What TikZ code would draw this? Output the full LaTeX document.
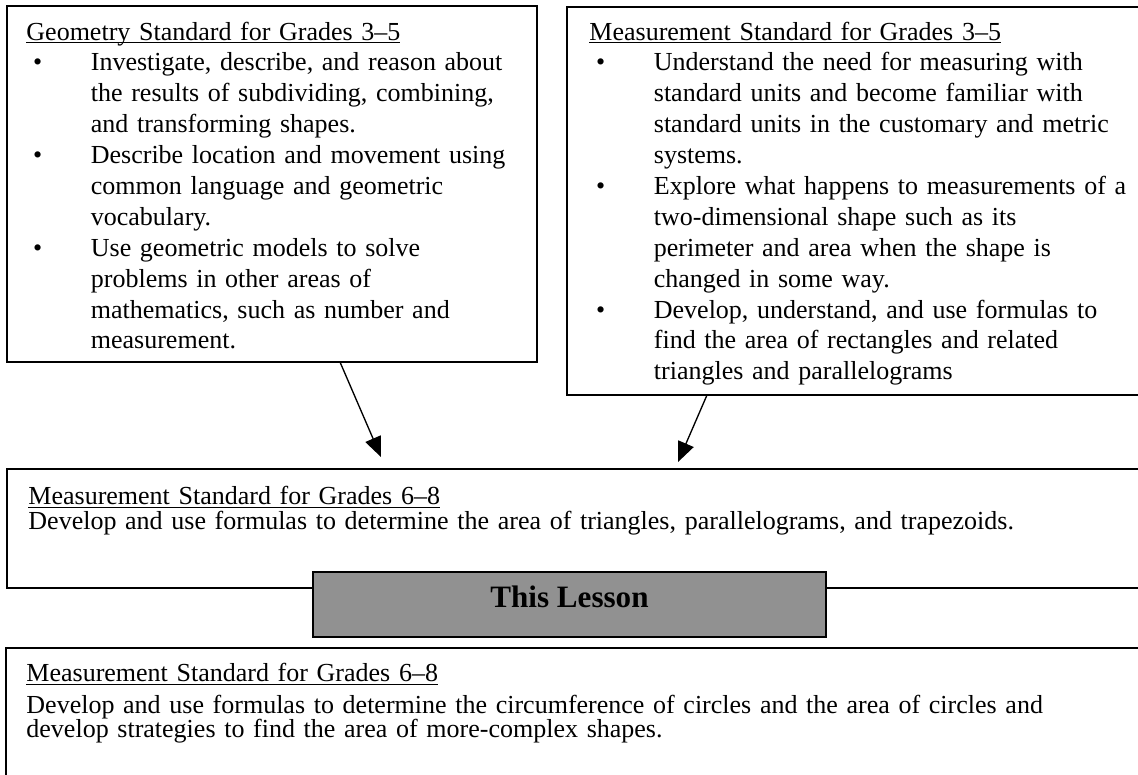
\documentclass[tikz,border=0pt]{standalone}
\usepackage{fontspec}
\setmainfont{Liberation Serif}
\usepackage{tikz}
\usetikzlibrary{arrows.meta, calc}

\definecolor{lessongray}{RGB}{145,145,145}
\newlength{\px}
\setlength{\px}{0.45pt}
\newlength{\ulwd}
% underlined heading of a standard
\newcommand{\stdtitle}[1]{\settowidth{\ulwd}{#1}\rlap{\rule[-1.4pt]{\ulwd}{0.5pt}}#1}
% bullet and hanging indent of the listed points
\newcommand{\bul}{\makebox[29pt][l]{\hspace*{3pt}\textbullet}}
\newcommand{\cont}{\hspace*{29pt}}

\begin{document}
\begin{tikzpicture}[x=0.45pt, y=-0.45pt,
    frame/.style={draw, line width=0.9pt, inner sep=0pt, outer sep=0pt, anchor=north west},
    stdtext/.style={inner sep=0pt, anchor=base west, align=left},
    lessonbox/.style={draw, line width=0.8pt, fill=lessongray, inner sep=0pt, outer sep=0pt,
        minimum width=513\px, minimum height=65\px, text height=9.6pt, text depth=7.3pt,
        font=\fontsize{14}{16}\selectfont\bfseries},
    arr/.style={-{Triangle[length=9pt, width=7.5pt]}, line width=0.6pt}]
    \clip (0,0) rectangle (1138,774);

    % the frames
    \node[frame, minimum width=530\px, minimum height=356\px] (geobox) at (7,6) {};
    \node[frame, minimum width=600\px, minimum height=388\px] (measbox) at (567,7) {};
    \node[frame, minimum width=1160\px, minimum height=119\px] (midbox) at (7,469) {};
    \node[frame, minimum width=1160\px, minimum height=160\px] (botbox) at (6,648) {};
    \node[lessonbox] (lesson) at (569.5,604.5) {This Lesson};

    % texts of the standards
    \node[stdtext, text width=520\px, font=\fontsize{11.7}{13.9}\selectfont] (geotext) at (26,40) {%
        \stdtitle{Geometry Standard for Grades 3--5}\\
        \bul Investigate, describe, and reason about\\
        \cont the results of subdividing, combining,\\
        \cont and transforming shapes.\\
        \bul Describe location and movement using\\
        \cont common language and geometric\\
        \cont vocabulary.\\
        \bul Use geometric models to solve\\
        \cont problems in other areas of\\
        \cont mathematics, such as number and\\
        \cont measurement.};
    \node[stdtext, text width=560\px, font=\fontsize{11.7}{13.9}\selectfont] (meastext) at (589,40) {%
        \stdtitle{Measurement Standard for Grades 3--5}\\
        \bul Understand the need for measuring with\\
        \cont standard units and become familiar with\\
        \cont standard units in the customary and metric\\
        \cont systems.\\
        \bul Explore what happens to measurements of a\\
        \cont two-dimensional shape such as its\\
        \cont perimeter and area when the shape is\\
        \cont changed in some way.\\
        \bul Develop, understand, and use formulas to\\
        \cont find the area of rectangles and related\\
        \cont triangles and parallelograms};
    \node[stdtext, text width=1100\px, font=\fontsize{11.7}{11.4}\selectfont] (midtext) at (28,504.5) {%
        \stdtitle{Measurement Standard for Grades 6--8}\\
        Develop and use formulas to determine the area of triangles, parallelograms, and trapezoids.};
    \node[stdtext, text width=1100\px, font=\fontsize{11.7}{11}\selectfont] (bottext) at (26,681.5) {%
        \stdtitle{Measurement Standard for Grades 6--8}\\[3.4pt]
        Develop and use formulas to determine the circumference of circles and the area of circles and\\
        develop strategies to find the area of more-complex shapes.};

    % arrows down to the grades 6--8 standard
    \coordinate (geoout) at ($(geobox.south west)+(333,0)$);
    \coordinate (geoin) at ($(midbox.north west)+(374,-12)$);
    \coordinate (measout) at ($(measbox.south west)+(140,0)$);
    \coordinate (measin) at ($(midbox.north west)+(671,-7)$);
    \draw[arr] (geoout) -- (geoin);
    \draw[arr] (measout) -- (measin);
\end{tikzpicture}
\end{document}
